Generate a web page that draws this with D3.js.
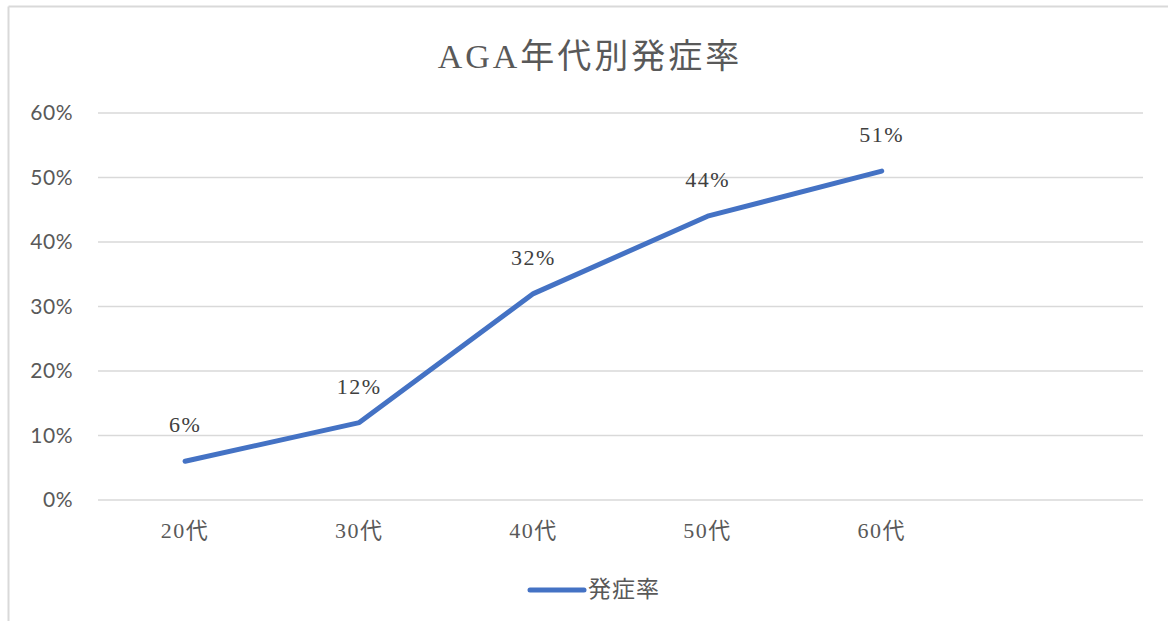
<!DOCTYPE html>
<html><head><meta charset="utf-8">
<script src="https://cdn.jsdelivr.net/npm/d3@7"></script>
<style>
body{margin:0;background:#fff;}
svg{display:block;}
</style></head>
<body>
<svg id="c" width="1168" height="621"></svg>
<script>
const title = "AGA年代別発症率";
const categories = ["20代","30代","40代","50代","60代",""];
const seriesName = "発症率";
const values = [6, 12, 32, 44, 51];
const yTicks = [0, 10, 20, 30, 40, 50, 60];

const svg = d3.select("#c");
const serif = "'Liberation Serif','DejaVu Serif','Noto Sans CJK JP',serif";
const sans = "Lato,'Noto Sans','Noto Sans CJK JP',sans-serif";
const grey = "#595959";

// chart border (only top & left visible)
svg.append("line").attr("x1",8.5).attr("x2",8.5).attr("y1",6.5).attr("y2",621).attr("stroke","#d9d9d9").attr("stroke-width",2);
svg.append("line").attr("x1",8.5).attr("x2",1168).attr("y1",6.5).attr("y2",6.5).attr("stroke","#d9d9d9").attr("stroke-width",2);

const L = 98, R = 1143, T = 113, B = 500;
const x = d3.scaleBand().domain(categories.map((c,i)=>i)).range([L,R]);
const y = d3.scaleLinear().domain([0,60]).range([B,T]);

svg.append("text").attr("x",590).attr("y",68).attr("text-anchor","middle")
  .attr("font-family",serif).attr("font-size",34).attr("letter-spacing",3).attr("fill",grey).text(title);

const g = svg.append("g");
g.selectAll(".grid").data(yTicks).join("line")
  .attr("x1",L).attr("x2",R).attr("y1",d=>y(d)).attr("y2",d=>y(d))
  .attr("stroke","#d9d9d9").attr("stroke-width",1.5);

g.selectAll(".yl").data(yTicks).join("text")
  .attr("x",73).attr("y",d=>y(d)).attr("dy","0.35em").attr("text-anchor","end")
  .attr("font-family",sans).attr("font-size",21).attr("letter-spacing",0.5).attr("fill",grey).text(d=>d+"%");

g.selectAll(".xl").data(categories).join("text")
  .attr("x",(d,i)=>x(i)+x.bandwidth()/2).attr("y",538).attr("text-anchor","middle")
  .attr("font-family",serif).attr("font-size",22).attr("letter-spacing",1.5).attr("fill",grey).text(d=>d);

const line = d3.line().x((d,i)=>x(i)+x.bandwidth()/2).y(d=>y(d));
g.append("path").datum(values).attr("d",line).attr("fill","none")
  .attr("stroke","#4472C4").attr("stroke-width",5).attr("stroke-linecap","round").attr("stroke-linejoin","round");

g.selectAll(".dl").data(values).join("text")
  .attr("x",(d,i)=>x(i)+x.bandwidth()/2).attr("y",d=>y(d)-29).attr("text-anchor","middle")
  .attr("font-family",serif).attr("font-size",22).attr("letter-spacing",1.5).attr("fill","#404040").text(d=>d+"%");

// legend
svg.append("line").attr("x1",530).attr("x2",584).attr("y1",590).attr("y2",590)
  .attr("stroke","#4472C4").attr("stroke-width",5).attr("stroke-linecap","round");
svg.append("text").attr("x",588).attr("y",597).attr("font-family",serif).attr("font-size",23)
  .attr("letter-spacing",1).attr("fill",grey).text(seriesName);
</script>
</body></html>
